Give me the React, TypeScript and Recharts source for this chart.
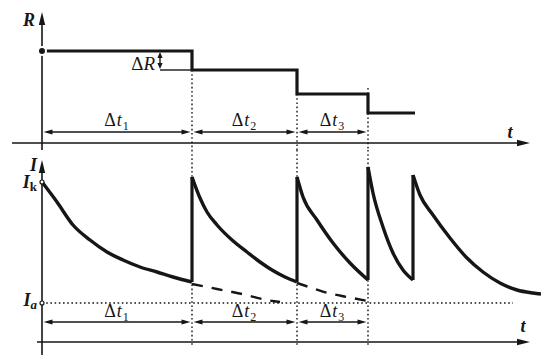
import React from 'react';
import { ComposedChart, Line, XAxis, YAxis, ReferenceLine, ReferenceDot } from 'recharts';

const W = 541;
const TOP_H = 150;
const BOT_H = 208;
const T_DOMAIN: [number, number] = [-4.2, 49.9];
const R_DOMAIN: [number, number] = [-0.7, 14.3];
const I_DOMAIN: [number, number] = [-1.6, 19.2];

const INK = '#161616';
const SERIF = "'Liberation Serif', 'Times New Roman', 'DejaVu Serif', serif";

// switching instants and the intervals between them
const intervalStarts = [0, 15, 25.5];
const switchTimes = [15, 25.5, 32.6];
const intervalNames = ['1', '2', '3'];

// R(t) steps
const resistance = [
  { t: 0, R: 9.2 },
  { t: 15, R: 7.3 },
  { t: 25.5, R: 4.9 },
  { t: 32.6, R: 3.0 },
  { t: 37.3, R: 3.0 },
];
const guideTopR = [7.3, 4.9, 5.5];
const deltaR = { t: 11.8, hi: 9.2, lo: 7.3 };

// I(t) branches
const decay1 = [
  { t: 0, I: 16.0 }, { t: 1.5, I: 14.0 }, { t: 3.1, I: 11.7 }, { t: 4.8, I: 10.2 },
  { t: 6.5, I: 9.0 }, { t: 8.1, I: 8.2 }, { t: 9.8, I: 7.5 }, { t: 11.5, I: 7.0 },
  { t: 13.1, I: 6.5 }, { t: 15, I: 6.0 },
];
const decay2 = [
  { t: 15, I: 16.5 }, { t: 15.8, I: 14.4 }, { t: 16.5, I: 13.0 }, { t: 17.5, I: 11.7 },
  { t: 19, I: 10.2 }, { t: 20.5, I: 9.0 }, { t: 21.8, I: 8.0 }, { t: 23, I: 7.2 },
  { t: 24.3, I: 6.5 }, { t: 25.5, I: 6.0 },
];
const decay3 = [
  { t: 25.5, I: 16.5 }, { t: 26.1, I: 14.5 }, { t: 27.5, I: 12.2 }, { t: 29.1, I: 9.9 },
  { t: 30.8, I: 7.9 }, { t: 32.6, I: 6.2 },
];
const decay4 = [
  { t: 32.6, I: 17.5 }, { t: 33.1, I: 14.9 }, { t: 34.1, I: 11.5 }, { t: 35.1, I: 8.9 },
  { t: 36.1, I: 7.2 }, { t: 37.1, I: 6.2 },
];
const decay5 = [
  { t: 37.1, I: 16.7 }, { t: 37.8, I: 14.7 }, { t: 39.1, I: 12.7 }, { t: 40.8, I: 10.4 },
  { t: 42.5, I: 8.4 }, { t: 44.1, I: 7.0 }, { t: 45.8, I: 5.9 }, { t: 47.5, I: 5.2 },
  { t: 49.1, I: 4.9 }, { t: 49.9, I: 4.8 },
];
const tail1 = [
  { t: 15, I: 5.8 }, { t: 17.5, I: 5.3 }, { t: 20, I: 4.8 }, { t: 22.5, I: 4.2 }, { t: 23.8, I: 4.0 },
];
const tail2 = [
  { t: 25.5, I: 5.9 }, { t: 27, I: 5.4 }, { t: 28.6, I: 4.9 }, { t: 30.5, I: 4.5 }, { t: 32.6, I: 4.1 },
];
const I_K = 16.0;
const I_A = 3.9;

const decays = [decay1, decay2, decay3, decay4, decay5];
const jumps = decays.slice(1).map((d, i) => [decays[i][decays[i].length - 1], d[0]]);

function head(x: number, y: number, dx: number, dy: number, len: number, half: number) {
  const bx = x - dx * len;
  const by = y - dy * len;
  return `${x},${y} ${bx - dy * half},${by + dx * half} ${bx + dy * half},${by - dx * half}`;
}

const txt = { fontFamily: SERIF };

const axisArrow = (label: React.ReactNode, lx: number, ly: number, anchor: string) => (p: any) => {
  const { x1, y1, x2, y2 } = p;
  const L = Math.hypot(x2 - x1, y2 - y1) || 1;
  const dx = (x2 - x1) / L;
  const dy = (y2 - y1) / L;
  return (
    <g>
      <line x1={x1} y1={y1} x2={x2 - dx * 6} y2={y2 - dy * 6} stroke={INK} strokeWidth={1.6} />
      <polygon points={head(x2, y2, dx, dy, 13, 3.2)} fill={INK} />
      <text x={x2 + lx} y={y2 + ly} textAnchor={anchor as any} style={txt} fontSize={18}
        fontStyle="italic" fontWeight="bold" fill={INK}>{label}</text>
    </g>
  );
};

const DeltaT = ({ x, y, sub }: { x: number; y: number; sub: string }) => (
  <text x={x} y={y} textAnchor="middle" style={txt} fontSize={18} fill={INK} letterSpacing={1}>
    Δ<tspan fontStyle="italic">t</tspan>
    <tspan fontSize={12} dy={4}>{sub}</tspan>
  </text>
);

const spanArrow = (sub: string, labelDy: number) => (p: any) => {
  const { x1, y1, x2, y2 } = p;
  const a = x1 + 1.5;
  const b = x2 - 1.5;
  return (
    <g>
      <line x1={a + 4} y1={y1} x2={b - 4} y2={y2} stroke={INK} strokeWidth={1.4} />
      <polygon points={head(a, y1, -1, 0, 9, 2.6)} fill={INK} />
      <polygon points={head(b, y2, 1, 0, 9, 2.6)} fill={INK} />
      <DeltaT x={(x1 + x2) / 2} y={y1 + labelDy} sub={sub} />
    </g>
  );
};

const dotted = (p: any) => (
  <line x1={p.x1} y1={p.y1} x2={p.x2} y2={p.y2} stroke={INK} strokeWidth={1.4} strokeDasharray="1.6 2.6" />
);

const plain = (w: number) => (p: any) => (
  <line x1={p.x1} y1={p.y1} x2={p.x2} y2={p.y2} stroke={INK} strokeWidth={w} />
);

const deltaRArrow = (p: any) => {
  const { x1, y1, x2, y2 } = p;
  return (
    <g>
      <line x1={x1} y1={y1 + 3} x2={x2} y2={y2 - 3} stroke={INK} strokeWidth={1.4} />
      <polygon points={head(x1, y1 + 1, 0, -1, 6, 2.6)} fill={INK} />
      <polygon points={head(x2, y2 - 1, 0, 1, 6, 2.6)} fill={INK} />
      <text x={x1 - 5} y={y2} textAnchor="end" style={txt} fontSize={19} fill={INK}>
        Δ<tspan fontStyle="italic">R</tspan>
      </text>
    </g>
  );
};

const axisPoint = (main: string, sub: string, subItalic: boolean, dy: number) => (p: any) => (
  <g>
    <circle cx={p.cx} cy={p.cy} r={2} fill="#fff" stroke={INK} strokeWidth={1.2} />
    <text x={p.cx - 5} y={p.cy + dy} textAnchor="end" style={txt} fontSize={18} fill={INK}
      fontStyle="italic" fontWeight="bold">
      {main}
      <tspan fontSize={13} dy={3} fontStyle={subItalic ? 'italic' : 'normal'}>{sub}</tspan>
    </text>
  </g>
);

export default function App() {
  const zero = { top: 0, right: 0, bottom: 0, left: 0 };
  return (
    <div style={{ position: 'absolute', left: 0, top: 0, width: W, height: TOP_H + BOT_H, background: '#fff' }}>
      <div style={{ position: 'absolute', left: 0, top: 0 }}>
        <ComposedChart width={W} height={TOP_H} margin={zero}>
          <XAxis type="number" dataKey="t" domain={T_DOMAIN} hide allowDataOverflow />
          <YAxis type="number" dataKey="R" domain={R_DOMAIN} hide allowDataOverflow />
          <ReferenceLine segment={[{ x: -3.0, y: 0 }, { x: 48.8, y: 0 }]} shape={axisArrow('t', -20, -5, 'middle')} />
          <ReferenceLine segment={[{ x: 0, y: -0.7 }, { x: 0, y: 13.1 }]} shape={axisArrow('R', -7, 14, 'end')} />
          {switchTimes.map((s, i) => (
            <ReferenceLine key={'g' + i} segment={[{ x: s, y: guideTopR[i] }, { x: s, y: -0.7 }]} shape={dotted} />
          ))}
          {intervalStarts.map((s, i) => (
            <ReferenceLine key={'d' + i} segment={[{ x: s, y: 1.1 }, { x: switchTimes[i], y: 1.1 }]}
              shape={spanArrow(intervalNames[i], -6)} />
          ))}
          <ReferenceLine segment={[{ x: deltaR.t, y: deltaR.lo }, { x: switchTimes[0], y: deltaR.lo }]} shape={plain(1.4)} />
          <ReferenceLine segment={[{ x: deltaR.t, y: deltaR.hi }, { x: deltaR.t, y: deltaR.lo }]} shape={deltaRArrow} />
          <Line data={resistance} dataKey="R" type="stepAfter" stroke={INK} strokeWidth={3.2} dot={false}
            isAnimationActive={false} />
        </ComposedChart>
      </div>
      <div style={{ position: 'absolute', left: 0, top: TOP_H }}>
        <ComposedChart width={W} height={BOT_H} margin={zero}>
          <XAxis type="number" dataKey="t" domain={T_DOMAIN} hide allowDataOverflow />
          <YAxis type="number" dataKey="I" domain={I_DOMAIN} hide allowDataOverflow />
          <ReferenceLine segment={[{ x: -0.5, y: 0 }, { x: 48.8, y: 0 }]} shape={axisArrow('t', -7, -10, 'middle')} />
          <ReferenceLine segment={[{ x: 0, y: -1.3 }, { x: 0, y: 18.2 }]} shape={axisArrow('I', -5, 11, 'end')} />
          <ReferenceLine segment={[{ x: 0, y: I_A }, { x: 47.1, y: I_A }]} shape={dotted} />
          {switchTimes.map((s, i) => (
            <ReferenceLine key={'g' + i} segment={[{ x: s, y: 19.2 }, { x: s, y: -0.3 }]} shape={dotted} />
          ))}
          {intervalStarts.map((s, i) => (
            <ReferenceLine key={'d' + i} segment={[{ x: s, y: 2.0 }, { x: switchTimes[i], y: 2.0 }]}
              shape={spanArrow(intervalNames[i], -5)} />
          ))}
          {[tail1, tail2].map((d, i) => (
            <Line key={'tail' + i} data={d} dataKey="I" type="monotone" stroke={INK} strokeWidth={2.4}
              strokeDasharray="11 9" dot={false} isAnimationActive={false} />
          ))}
          {jumps.map((d, i) => (
            <Line key={'jump' + i} data={d} dataKey="I" type="linear" stroke={INK} strokeWidth={3.2}
              dot={false} isAnimationActive={false} />
          ))}
          {decays.map((d, i) => (
            <Line key={'decay' + i} data={d} dataKey="I" type="monotone" stroke={INK} strokeWidth={3.4}
              dot={false} isAnimationActive={false} />
          ))}
          <ReferenceDot x={0} y={I_K} shape={axisPoint('I', 'k', false, 6)} />
          <ReferenceDot x={0} y={I_A} shape={axisPoint('I', 'a', true, 3)} />
        </ComposedChart>
      </div>
    </div>
  );
}
